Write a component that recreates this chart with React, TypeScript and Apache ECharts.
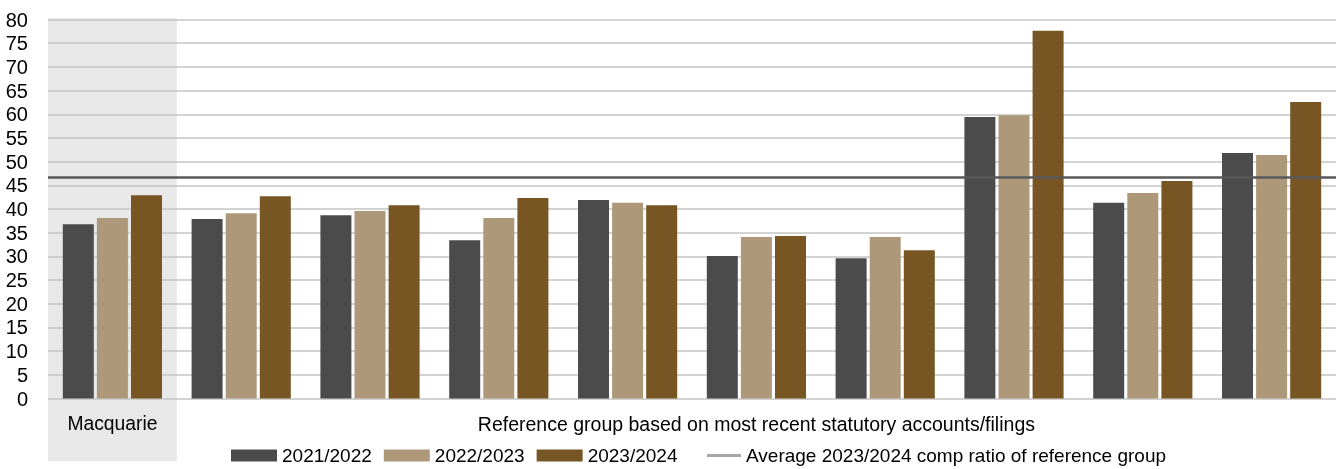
import React, { useEffect, useRef } from "react";
import * as echarts from "echarts";

// Compensation ratios by financial year
const categories = ["Macquarie", "Peer 1", "Peer 2", "Peer 3", "Peer 4", "Peer 5", "Peer 6", "Peer 7", "Peer 8", "Peer 9"];
const fy2122 = [36.8, 37.9, 38.7, 33.4, 41.9, 30.1, 29.6, 59.4, 41.3, 51.8];
const fy2223 = [38.1, 39.1, 39.6, 38.1, 41.3, 34.1, 34.1, 59.8, 43.4, 51.4];
const fy2324 = [42.9, 42.7, 40.8, 42.3, 40.8, 34.3, 31.3, 77.6, 45.9, 62.6];
const averageRatio = 46.6;

const seriesNames = ["2021/2022", "2022/2023", "2023/2024"];
const avgName = "Average 2023/2024 comp ratio of reference group";
const groupLabel = "Reference group based on most recent statutory accounts/filings";
const yTicks = { min: 0, max: 80, interval: 5 };

const FONT = "'Liberation Sans', Arial, sans-serif";
const colors = ["#4b4b4b", "#ad997a", "#775624"];

export default function App() {
  const ref = useRef<HTMLDivElement>(null);

  useEffect(() => {
    if (!ref.current) return;
    const chart = echarts.init(ref.current, undefined, { renderer: "svg" });
    const grid = { left: 48, right: 5, top: 19.5, bottom: 70.5 };
    const plotBottom = 469 - grid.bottom;
    const catWidth = (1341 - grid.left - grid.right) / categories.length;
    const legendText = { fontFamily: FONT, fontSize: 19, color: "#000" };

    const bars = [fy2122, fy2223, fy2324].map((d, i) => ({
      name: seriesNames[i],
      type: "bar" as const,
      data: d,
      barWidth: 31,
      barGap: "10%",
      itemStyle: { color: colors[i] },
      z: 2,
    }));

    chart.setOption({
      animation: false,
      textStyle: { fontFamily: FONT },
      grid,
      legend: [
        {
          data: seriesNames,
          left: 226,
          top: 441,
          itemWidth: 46,
          itemHeight: 12,
          itemGap: 12,
          icon: "rect",
          textStyle: legendText,
        },
        {
          data: [{ name: avgName, icon: "rect", itemStyle: { color: "#a6a6a6" } }],
          left: 702,
          top: 441,
          itemWidth: 34,
          itemHeight: 3,
          textStyle: legendText,
        },
      ],
      xAxis: {
        type: "category",
        data: categories,
        axisLine: { show: false },
        axisTick: { show: false },
        axisLabel: {
          margin: 15,
          fontFamily: FONT,
          fontSize: 19.3,
          color: "#000",
          formatter: (v: string, i: number) => (i === 0 ? v : ""),
        },
      },
      yAxis: {
        type: "value",
        min: yTicks.min,
        max: yTicks.max,
        interval: yTicks.interval,
        axisLine: { show: false },
        axisTick: { show: false },
        axisLabel: { margin: 20, fontFamily: FONT, fontSize: 20, color: "#000" },
        splitLine: { lineStyle: { color: "#c4c4c4", width: 1.5 } },
      },
      graphic: [
        {
          type: "rect",
          z: -10,
          silent: true,
          shape: { x: grid.left, y: 18, width: catWidth, height: 461 - 18 },
          style: { fill: "#e8e8e8" },
        },
        {
          type: "text",
          x: grid.left + catWidth + (categories.length - 1) * catWidth / 2,
          y: plotBottom + 15,
          style: {
            text: groupLabel,
            fontFamily: FONT,
            fontSize: 19.5,
            fill: "#000",
            align: "center",
            verticalAlign: "top",
          },
        },
      ],
      series: [
        ...bars,
        {
          name: avgName,
          type: "line",
          data: [],
          symbol: "none",
          lineStyle: { color: "#a6a6a6", width: 3 },
          itemStyle: { color: "#a6a6a6" },
          markLine: {
            silent: true,
            symbol: "none",
            label: { show: false },
            lineStyle: { color: "#595959", width: 2.5, type: "solid" },
            data: [{ yAxis: averageRatio }],
            z: 5,
          },
        },
      ],
    });
    return () => chart.dispose();
  }, []);

  return (
    <div
      ref={ref}
      style={{ position: "fixed", left: 0, top: 0, width: 1341, height: 469 }}
    />
  );
}
